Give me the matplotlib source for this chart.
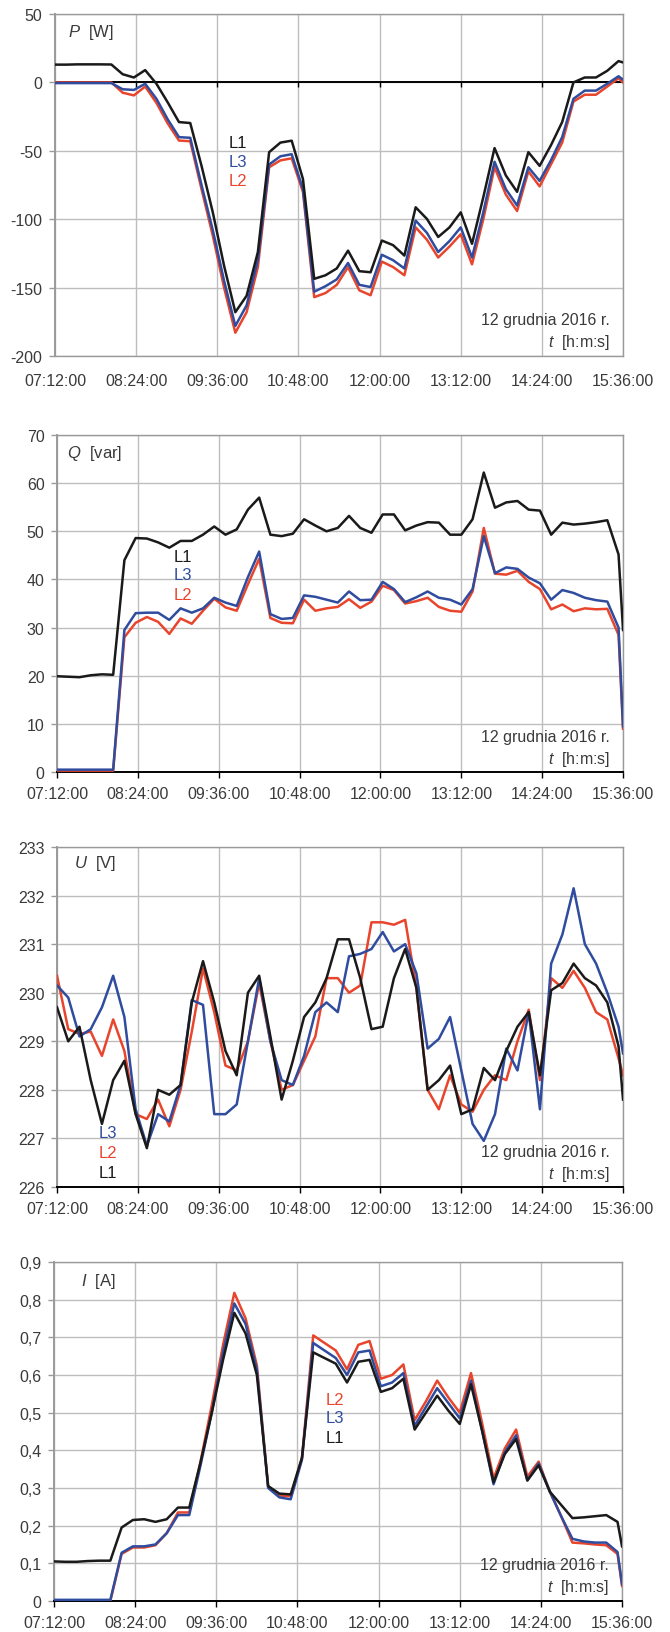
import matplotlib
matplotlib.use("Agg")
import matplotlib.pyplot as plt
import numpy as np

plt.rcParams['font.family'] = ['Liberation Sans', 'DejaVu Sans']
plt.rcParams['mathtext.fontset'] = 'custom'
plt.rcParams['mathtext.rm'] = 'Liberation Sans'
plt.rcParams['mathtext.it'] = 'Liberation Sans:italic'

# samples every 10 min from 07:12, last one at 15:36 (minutes after midnight)
t_start = 7 * 60 + 12
t_end = 15 * 60 + 36
minutes = [t_start + 10 * k for k in range(51)] + [t_end]

tick_labels = ['07:12:00', '08:24:00', '09:36:00', '10:48:00',
               '12:00:00', '13:12:00', '14:24:00', '15:36:00']

# active power P [W]
p_l1 = [13, 13, 13.2, 13.2, 13.2, 13.1, 6, 3.6, 9, -1, -14.6, -29, -29.7, -61,
        -95, -134, -168, -156, -124, -51, -44, -42.6, -70.6, -143.6, -141, -136,
        -123, -138, -138.8, -115.6, -119, -126.6, -91.3, -99.8, -113, -106, -95,
        -118, -84, -48, -68, -80, -51, -61, -46, -29, 0, 3.6, 3.6, 8.5, 15.6, 14.6]
p_l2 = [0, 0, 0, 0, 0, 0, -7.5, -9.5, -3, -15, -30, -42.5, -43, -78,
        -112, -150, -183, -168, -135, -62, -57, -55.5, -80, -157, -154, -148,
        -135, -152, -155.6, -131, -135, -141, -106, -115, -128, -120, -111,
        -133, -100, -62, -82, -94, -65, -76, -60, -44, -14, -9, -9, -3, 3, 0]
p_l3 = [-0.5, -0.5, -0.5, -0.5, -0.5, -0.5, -5, -5.5, -1, -12, -27, -40, -40.5, -75,
        -108, -145, -178, -163, -130, -60, -54, -52.5, -78, -153, -149, -144,
        -132, -148, -149.6, -126, -130, -136, -101, -110, -124, -116, -106,
        -128, -95, -58, -78, -90, -62, -72, -57, -40, -12, -6, -6, -1, 4.5, 2]

# reactive power Q [var]
q_l1 = [19.9, 19.8, 19.7, 20.1, 20.3, 20.2, 44, 48.6, 48.5, 47.7, 46.6, 48, 48,
        49.3, 51, 49.3, 50.4, 54.5, 57, 49.3, 49, 49.5, 52.5, 51.2, 50, 50.7,
        53.2, 50.7, 49.7, 53.5, 53.5, 50.2, 51.2, 51.9, 51.8, 49.3, 49.3, 52.5,
        62.2, 54.9, 56, 56.3, 54.5, 54.3, 49.3, 51.8, 51.4, 51.6, 51.9, 52.3,
        45.2, 29.5]
q_l2 = [0.3, 0.3, 0.3, 0.3, 0.3, 0.3, 28, 31, 32.2, 31.2, 28.7, 31.9, 30.8,
        33.5, 36, 34.2, 33.5, 39, 44.3, 32, 31, 30.9, 35.8, 33.5, 34, 34.3,
        35.9, 34.1, 35.4, 38.7, 37.8, 35, 35.5, 36.2, 34.3, 33.5, 33.3, 37.5,
        50.7, 41.2, 41, 41.8, 39.5, 38, 33.8, 34.8, 33.4, 34, 33.8, 33.9,
        28.5, 9]
q_l3 = [0.5, 0.5, 0.5, 0.5, 0.5, 0.5, 29.5, 33, 33.1, 33.1, 31.6, 34, 33.1,
        34, 36.2, 35.2, 34.5, 40.5, 45.8, 32.8, 31.8, 32, 36.7, 36.4, 35.8, 35.2,
        37.5, 35.7, 35.8, 39.5, 38, 35.3, 36.3, 37.5, 36.2, 35.8, 34.8, 38,
        49, 41.3, 42.5, 42.2, 40.4, 39.2, 35.8, 37.8, 37.2, 36.2, 35.7, 35.4,
        30, 9.5]

# voltage U [V]
u_l1 = [229.7, 229.0, 229.3, 228.2, 227.3, 228.2, 228.6, 227.5, 226.8, 228.0,
        227.9, 228.1, 229.8, 230.65, 229.8, 228.8, 228.3, 230.0, 230.35, 229.1,
        227.8, 228.6, 229.5, 229.8, 230.3, 231.1, 231.1, 230.3, 229.25, 229.3,
        230.3, 230.9, 230.1, 228.0, 228.2, 228.5, 227.5, 227.6, 228.45, 228.2,
        228.8, 229.3, 229.6, 228.3, 230.05, 230.2, 230.6, 230.3, 230.15, 229.8,
        228.9, 227.8]
u_l2 = [230.35, 229.25, 229.15, 229.2, 228.7, 229.45, 228.8, 227.5, 227.4, 227.8,
        227.25, 228.0, 229.2, 230.5, 229.6, 228.5, 228.4, 229.0, 230.2, 229.0,
        228.0, 228.1, 228.6, 229.1, 230.3, 230.3, 230.0, 230.15, 231.45, 231.45,
        231.4, 231.5, 230.1, 228.0, 227.6, 228.3, 227.7, 227.55, 228.0, 228.3,
        228.2, 229.0, 229.65, 228.2, 230.3, 230.1, 230.45, 230.1, 229.6, 229.45,
        228.65, 228.3]
u_l3 = [230.15, 229.9, 229.1, 229.25, 229.7, 230.35, 229.5, 227.6, 226.85, 227.5,
        227.35, 228.1, 229.85, 229.75, 227.5, 227.5, 227.7, 229.0, 230.3, 229.0,
        228.2, 228.1, 228.7, 229.6, 229.8, 229.6, 230.75, 230.8, 230.9, 231.25,
        230.85, 231.0, 230.4, 228.85, 229.05, 229.5, 228.4, 227.3, 226.95, 227.5,
        228.85, 228.4, 229.6, 227.6, 230.6, 231.2, 232.15, 231.0, 230.6, 230.0,
        229.3, 228.75]

# current I [A]
i_l1 = [0.105, 0.104, 0.104, 0.106, 0.107, 0.107, 0.195, 0.215, 0.217, 0.21,
        0.217, 0.248, 0.248, 0.368, 0.5, 0.64, 0.765, 0.71, 0.6, 0.305, 0.285,
        0.283, 0.38, 0.66, 0.645, 0.63, 0.58, 0.635, 0.64, 0.555, 0.565, 0.59,
        0.455, 0.5, 0.545, 0.505, 0.47, 0.575, 0.45, 0.315, 0.39, 0.43, 0.32,
        0.36, 0.29, 0.255, 0.22, 0.222, 0.225, 0.228, 0.21, 0.145]
i_l2 = [0.0, 0.0, 0.0, 0.0, 0.0, 0.0, 0.125, 0.142, 0.142, 0.148, 0.18, 0.235,
        0.235, 0.37, 0.52, 0.68, 0.818, 0.75, 0.625, 0.305, 0.28, 0.278, 0.38,
        0.705, 0.685, 0.665, 0.615, 0.68, 0.69, 0.59, 0.6, 0.628, 0.48, 0.53,
        0.585, 0.54, 0.5, 0.605, 0.47, 0.325, 0.405, 0.455, 0.33, 0.37, 0.29,
        0.225, 0.155, 0.153, 0.15, 0.148, 0.125, 0.04]
i_l3 = [0.003, 0.003, 0.003, 0.003, 0.003, 0.003, 0.128, 0.145, 0.145, 0.15,
        0.18, 0.228, 0.228, 0.36, 0.5, 0.66, 0.79, 0.735, 0.615, 0.3, 0.275,
        0.27, 0.375, 0.685, 0.665, 0.645, 0.6, 0.66, 0.665, 0.57, 0.58, 0.605,
        0.465, 0.515, 0.565, 0.525, 0.485, 0.585, 0.45, 0.31, 0.395, 0.44, 0.32,
        0.365, 0.29, 0.225, 0.165, 0.158, 0.155, 0.155, 0.13, 0.045]

c_l1 = '#1a1a1a'
c_l2 = '#e8452c'
c_l3 = '#2f4c9e'
grid_c = '#bdbdbd'
frame_c = '#9a9a9a'
text_c = '#3a3a3a'

panels = [
    dict(l1=p_l1, l2=p_l2, l3=p_l3, ylim=(-200, 50), yticks=[-200, -150, -100, -50, 0, 50],
         ylabels=['-200', '-150', '-100', '-50', '0', '50'], name='$P$  [W]', name_off=(13, -17),
         zero_axis=True, tags_at=(594, [-43.8, -57.7, -71.8]), tags=['L1', 'L3', 'L2'],
         rect=[0.0821, 0.7814, 0.8478, 0.2094]),
    dict(l1=q_l1, l2=q_l2, l3=q_l3, ylim=(0, 70), yticks=list(range(0, 71, 10)),
         ylabels=[str(v) for v in range(0, 71, 10)], name='$Q$  [var]', name_off=(10, -17),
         zero_axis=False, tags_at=(544, [44.8, 41.0, 36.8]), tags=['L1', 'L3', 'L2'],
         rect=[0.0851, 0.5266, 0.8448, 0.2064]),
    dict(l1=u_l1, l2=u_l2, l3=u_l3, ylim=(226, 233), yticks=list(range(226, 234)),
         ylabels=[str(v) for v in range(226, 234)], name='$U$  [V]', name_off=(17, -15),
         zero_axis=False, tags_at=(477, [227.13, 226.72, 226.3]), tags=['L3', 'L2', 'L1'],
         rect=[0.0851, 0.2725, 0.8448, 0.2082]),
    dict(l1=i_l1, l2=i_l2, l3=i_l3, ylim=(0, 0.9), yticks=[k / 10 for k in range(10)],
         ylabels=['0'] + ['0,%d' % k for k in range(1, 10)], name='$I$  [A]', name_off=(27, -19),
         zero_axis=False, tags_at=(681, [0.536, 0.486, 0.434]), tags=['L2', 'L3', 'L1'],
         rect=[0.0806, 0.0190, 0.8478, 0.2076]),
]

tag_colors = {'L1': c_l1, 'L2': c_l2, 'L3': c_l3}
xticks = [t_start + 72 * j for j in range(8)]

fig = plt.figure(figsize=(6.70, 16.33), dpi=100)

for pn in panels:
    ax = fig.add_axes(pn['rect'])
    ax.plot(minutes, pn['l2'], color=c_l2, lw=1.8, zorder=3)
    ax.plot(minutes, pn['l3'], color=c_l3, lw=1.8, zorder=4)
    ax.plot(minutes, pn['l1'], color=c_l1, lw=1.8, zorder=5)

    ax.set_xlim(t_start, t_end)
    ax.set_ylim(*pn['ylim'])
    ax.set_xticks(xticks)
    ax.set_xticklabels(tick_labels)
    ax.set_yticks(pn['yticks'])
    ax.set_yticklabels(pn['ylabels'])
    ax.grid(True, color=grid_c, lw=1.0, zorder=1)

    for side in ['top', 'right', 'left', 'bottom']:
        ax.spines[side].set_color(frame_c)
        ax.spines[side].set_linewidth(1.0)
    ax.spines['left'].set_linewidth(1.4)
    ax.tick_params(axis='y', direction='out', length=4, width=1, color=frame_c,
                   labelsize=11.5, labelcolor=text_c, pad=5)

    if pn['zero_axis']:
        # category axis crosses at zero, labels stay at the bottom
        ax.axhline(0, color='black', lw=1.4, zorder=2)
        ax.vlines(xticks[1:-1], -3.5, 0, color='black', lw=1, zorder=2)
        ax.tick_params(axis='x', length=0, labelsize=11.5, labelcolor=text_c, pad=12)
    else:
        ax.spines['bottom'].set_color('black')
        ax.spines['bottom'].set_linewidth(1.4)
        ax.tick_params(axis='x', direction='out', length=4, width=1, color='black',
                       labelsize=11.5, labelcolor=text_c, pad=6)

    ax.annotate(pn['name'], xy=(0, 1), xycoords='axes fraction', xytext=pn['name_off'],
                textcoords='offset pixels', ha='left', va='center', fontsize=12, color=text_c)
    ax.annotate('12 grudnia 2016 r.', xy=(1, 0), xycoords='axes fraction', xytext=(-13, 36),
                textcoords='offset pixels', ha='right', va='center', fontsize=11.5, color=text_c)
    ax.annotate('$t$  [h:m:s]', xy=(1, 0), xycoords='axes fraction', xytext=(-13, 14),
                textcoords='offset pixels', ha='right', va='center', fontsize=11.5, color=text_c)

    tx, tys = pn['tags_at']
    for tag, ty in zip(pn['tags'], tys):
        ax.text(tx, ty, tag, color=tag_colors[tag], fontsize=12, ha='center', va='center', zorder=6)

fig.savefig('out.png', dpi=100)
